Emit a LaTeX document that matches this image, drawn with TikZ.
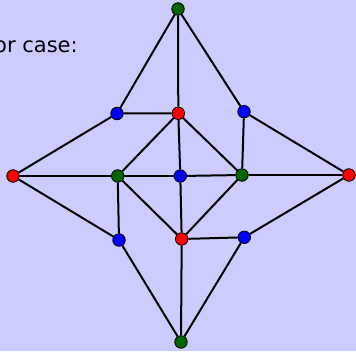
\documentclass[tikz,border=0pt]{standalone}
\usepackage{fontspec}
\setmainfont{DejaVu Sans}
\usepackage{tikz}
\usetikzlibrary{positioning}
\definecolor{slidebg}{RGB}{204,204,255}
\definecolor{darkgreen}{RGB}{0,100,0}

\begin{document}
\begin{tikzpicture}[
  x=1pt,y=-1pt,
  vtx/.style={circle,draw=black,line width=0.8pt,inner sep=0pt,minimum size=12.5pt},
  rv/.style={vtx,fill=red},
  gv/.style={vtx,fill=darkgreen},
  bv/.style={vtx,fill=blue},
  link/.style={line width=2pt,black}
]
  % slide background
  \fill[slidebg] (0,0) rectangle (356,351);
  \useasboundingbox (0,0) rectangle (356,351);
  \node[anchor=base west,inner sep=0pt,font=\fontsize{21}{24}\selectfont] (caption) at (-6,52) {or case:};

  % vertices
  \node[gv] (gtop) at (178,9) {};
  \node[bv] (bul) at (117,113.5) {};
  \node[rv] (rmid) at (178.3,113.3) {};
  \node[bv] (bur) at (244,111.7) {};
  \node[rv] (rleft) at (13,176) {};
  \node[gv] (gleft) at (117.7,176) {};
  \node[bv] (bmid) at (180.3,176) {};
  \node[gv] (gright) at (242,175) {};
  \node[rv] (rright) at (349,175) {};
  \node[bv] (bll) at (119,240) {};
  \node[rv] (rlow) at (181.7,239) {};
  \node[bv] (blr) at (244.3,237.3) {};
  \node[gv] (gbot) at (181,342) {};

  % outer edges
  \draw[link] (gtop) -- (bul);
  \draw[link] (gtop) -- (rmid);
  \draw[link] (gtop) -- (bur);
  \draw[link] (bul) -- (rleft);
  \draw[link] (bur) -- (rright);
  \draw[link] (bll) -- (rleft);
  \draw[link] (blr) -- (rright);
  \draw[link] (bll) -- (gbot);
  \draw[link] (blr) -- (gbot);
  \draw[link] (rlow) -- (gbot);
  \draw[link] (rleft) -- (gleft);
  \draw[link] (gright) -- (rright);
  % inner edges
  \draw[link] (bul) -- (rmid);
  \draw[link] (rmid) -- (gleft);
  \draw[link] (rmid) -- (bmid);
  \draw[link] (rmid) -- (gright);
  \draw[link] (bur) -- (gright);
  \draw[link] (gleft) -- (bmid);
  \draw[link] (bmid) -- (gright);
  \draw[link] (gleft) -- (bll);
  \draw[link] (gleft) -- (rlow);
  \draw[link] (bmid) -- (rlow);
  \draw[link] (gright) -- (rlow);
  \draw[link] (rlow) -- (blr);
\end{tikzpicture}
\end{document}
